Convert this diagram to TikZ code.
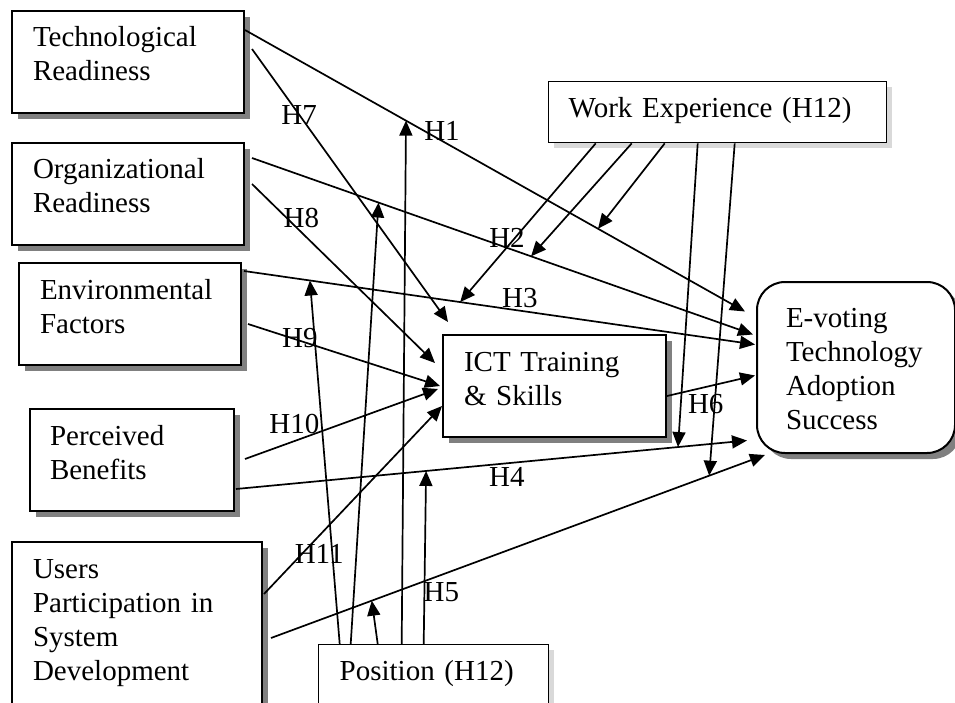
\documentclass[tikz,border=0pt]{standalone}
\usepackage{fontspec}
\setmainfont{Liberation Serif}
\usetikzlibrary{arrows.meta,shadows}

\begin{document}
\begin{tikzpicture}[x=1pt, y=-1pt, font=\fontsize{29}{34}\selectfont,
    base/.style={draw, fill=white, align=left, anchor=north west, inner xsep=21pt,
        inner ysep=16pt, text height=20pt, text depth=50pt},
    box/.style={base, line width=2pt,
        drop shadow={fill=gray, opacity=1, shadow xshift=6pt, shadow yshift=-6pt}},
    softbox/.style={base, line width=1.4pt,
        drop shadow={fill=black, opacity=0.15, shadow xshift=5pt, shadow yshift=-5pt}},
    link/.style={line width=1.7pt, -{Triangle[length=15pt, width=13pt]}},
    hyp/.style={inner sep=0pt}]
    \useasboundingbox (0,0) rectangle (955,703);

    % factors
    \node [box, text width=190pt] (tech) at (11,10) {Technological\\Readiness};
    \node [box, text width=190pt] (org) at (11,142) {Organizational\\Readiness};
    \node [box, text width=180pt] (env) at (18,262) {Environmental\\Factors};
    \node [box, text width=164pt, inner xsep=20pt] (perc) at (29,408) {Perceived\\Benefits};
    \node [box, text width=208pt, text depth=150pt] (users) at (11,541) {Users\\Participation in\\System\\Development};

    % mediator and outcome
    \node [box, text width=181pt] (ict) at (442,334) {ICT Training\\\& Skills};
    \node [box, rounded corners=28pt, text width=140pt, inner xsep=29pt, text height=29pt, text depth=110pt] (evote) at (756,281) {E-voting\\Technology\\Adoption\\Success};

    % moderators
    \node [softbox, text width=298pt, inner xsep=20pt, text depth=9pt] (work) at (548,81) {Work Experience (H12)};
    \node [softbox, text width=188pt, text depth=60pt] (pos) at (318,644) {Position (H12)};

    % direct paths to adoption success
    \draw [link] ([yshift=32pt]tech.east) -- node[hyp, pos=0.394, yshift=10pt] {H1}
        coordinate[pos=0.706] (h1we) coordinate[pos=0.322] (h1pos) ([xshift=-11pt, yshift=56pt]evote.west);
    \draw [link] ([xshift=7pt, yshift=36pt]org.east) -- node[hyp, pos=0.509, yshift=10pt] {H2}
        coordinate[pos=0.557] (h2we) coordinate[pos=0.2525] (h2pos) ([xshift=-3pt, yshift=33pt]evote.west);
    \draw [link] ([xshift=2pt, yshift=43pt]env.east) -- node[hyp, pos=0.54, yshift=13pt] {H3}
        coordinate[pos=0.423] (h3we) coordinate[pos=0.129] (h3pos) ([xshift=-1pt, yshift=23pt]evote.west);
    \draw [link] ([xshift=1pt, yshift=-29pt]perc.east) -- node[hyp, pos=0.53, yshift=-14pt] {H4}
        coordinate[pos=0.865] (h4we) coordinate[pos=0.372] (h4pos) ([xshift=-9pt, yshift=-73pt]evote.west);
    \draw [link] ([xshift=8pt, yshift=5pt]users.east) --
        coordinate[pos=0.887] (uswe) coordinate[pos=0.204] (uspos) ([xshift=9pt, yshift=-1pt]evote.south west);
    \draw [link] ([yshift=-10pt]ict.east) -- node[hyp, pos=0.44, yshift=-17pt] {H6} ([xshift=-1pt, yshift=-8pt]evote.west);

    % paths to ICT training
    \draw [link] ([xshift=7pt, yshift=13pt]tech.east) -- node[hyp, pos=0.24] {H7} ([xshift=6pt, yshift=12pt]ict.north west);
    \draw [link] ([xshift=7pt, yshift=10pt]org.east) -- node[hyp, pos=0.27, yshift=14pt] {H8} ([xshift=-7pt, yshift=23pt]ict.west);
    \draw [link] ([xshift=6pt, yshift=-10pt]env.east) -- node[hyp, pos=0.27, yshift=3pt] {H9} ([xshift=-2pt]ict.west);
    \draw [link] ([xshift=10pt, yshift=1pt]perc.east) -- node[hyp, pos=0.256, yshift=17pt] {H10} ([xshift=-4pt, yshift=-3pt]ict.west);
    \draw [link] ([xshift=1pt, yshift=49pt]users.east) -- node[hyp, pos=0.31, yshift=-18pt] {H11} ([yshift=-20pt]ict.west);

    % work experience moderates
    \draw [link] ([xshift=-53pt]work.south) -- (h1we);
    \draw [link] ([xshift=-86pt]work.south) -- (h2we);
    \draw [link] ([xshift=-122pt]work.south) -- (h3we);
    \draw [link] ([xshift=-20pt]work.south) -- (h4we);
    \draw [link] ([xshift=17pt]work.south) -- (uswe);

    % position moderates
    \draw [link] ([xshift=-94pt]pos.north) -- (h3pos);
    \draw [link] ([xshift=-83pt]pos.north) -- (h2pos);
    \draw [link] ([xshift=-32pt]pos.north) -- (h1pos);
    \draw [link] ([xshift=-56pt]pos.north) -- (uspos);
    \draw [link] ([xshift=-10pt]pos.north) -- node[hyp, pos=0.3, xshift=17pt] {H5} (h4pos);
\end{tikzpicture}
\end{document}
